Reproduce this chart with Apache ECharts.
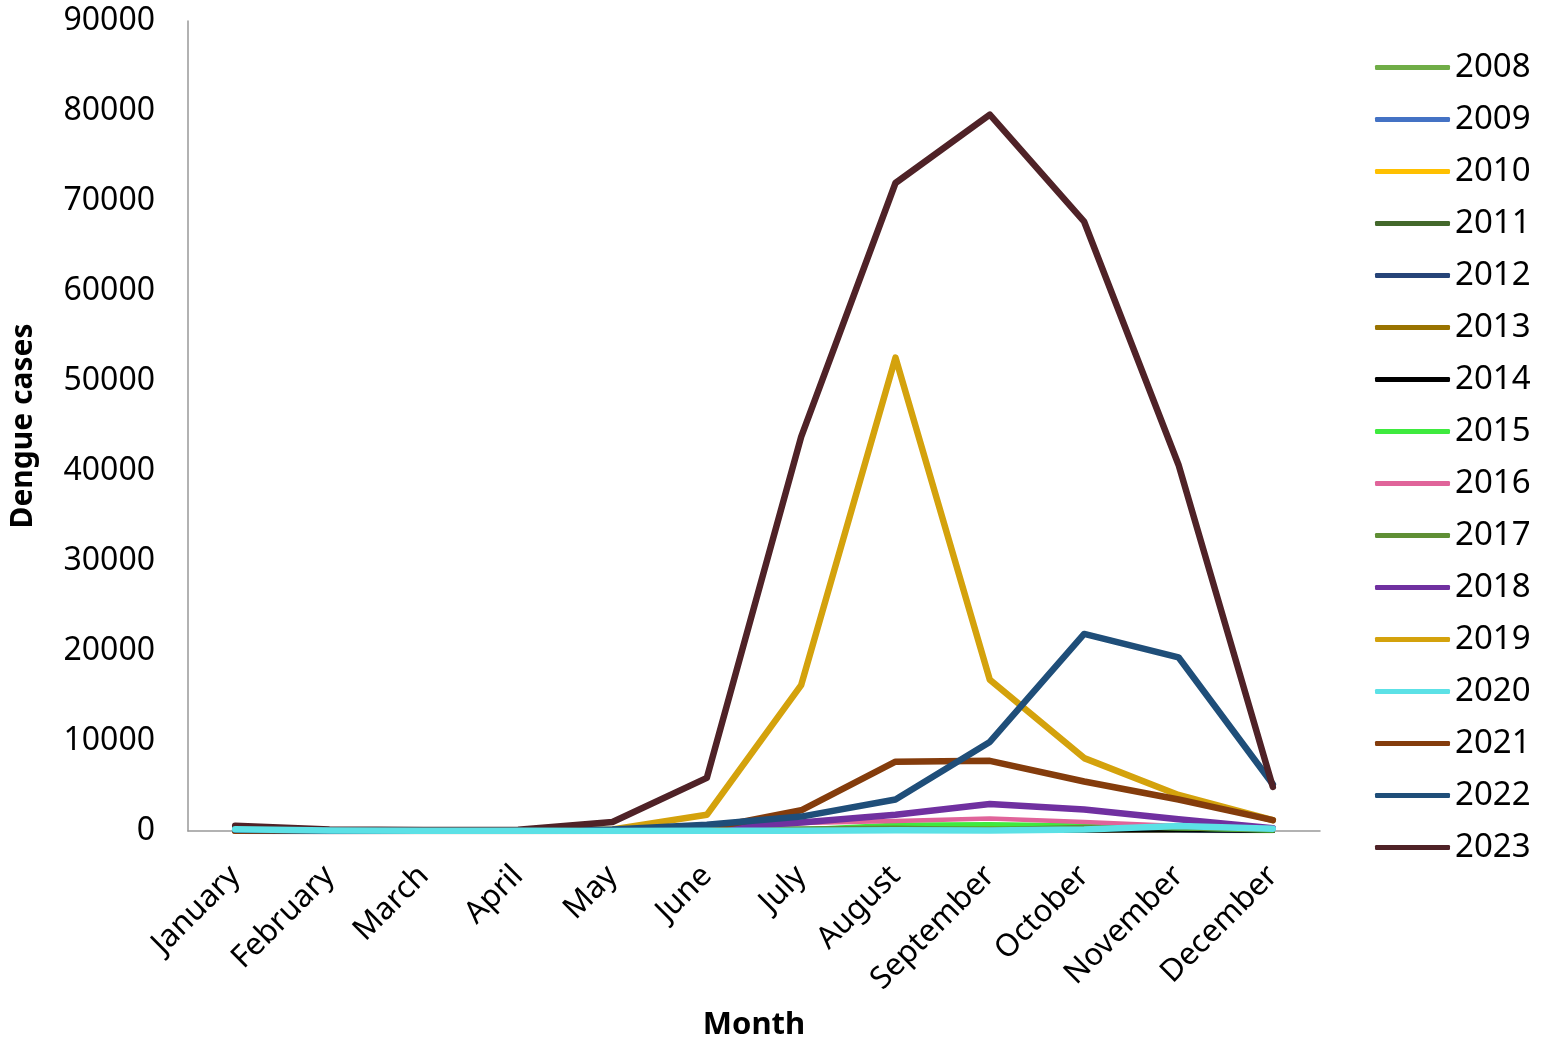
<!DOCTYPE html>
<html>
<head>
<meta charset="utf-8">
<script src="https://cdn.jsdelivr.net/npm/echarts@6/dist/echarts.min.js"></script>
<style>html,body{margin:0;padding:0;background:#fff}#c{width:1543px;height:1044px}</style>
</head>
<body>
<div id="c"></div>
<script>
const months = ["January","February","March","April","May","June","July","August","September","October","November","December"];
const yTicks = [0,10000,20000,30000,40000,50000,60000,70000,80000,90000];
const years = ["2008","2009","2010","2011","2012","2013","2014","2015","2016","2017","2018","2019","2020","2021","2022","2023"];
const colors = ["#70AD47","#4472C4","#FFC000","#43682B","#264478","#997300","#000000","#3EEA3E","#E0649A","#5F8F35","#7030A0","#D4A20C","#5CE1E6","#843C0C","#1F4E79","#4F2227"];
const widths = [4.5,4.5,4.5,4.5,4.5,4.5,4.5,4.5,4.5,4.5,6.5,6.5,6.5,6.5,6.5,6.5];

const d2008 = [0,0,0,0,0,50,150,300,350,200,80,20];
const d2009 = [0,0,0,0,0,30,60,150,140,60,20,10];
const d2010 = [0,0,0,0,0,20,50,100,120,70,30,10];
const d2011 = [0,0,0,0,10,30,150,300,400,300,120,30];
const d2012 = [0,0,0,0,0,20,40,150,250,120,60,20];
const d2013 = [0,0,0,0,10,40,170,350,400,450,250,60];
const d2014 = [0,0,0,0,0,10,20,80,100,50,150,20];
const d2015 = [0,0,0,0,10,30,170,700,750,600,300,50];
const d2016 = [10,0,20,40,70,250,900,1100,1400,1000,550,150];
const d2017 = [90,60,30,70,130,270,290,350,200,450,300,90];
const d2018 = [30,10,20,30,50,300,950,1800,3000,2400,1300,300];
const d2019 = [40,20,20,60,180,1800,16200,52600,16800,8100,4000,1200];
const d2020 = [200,50,30,20,10,20,30,70,50,160,550,250];
const d2021 = [30,10,10,0,40,270,2300,7700,7800,5500,3500,1200];
const d2022 = [130,20,20,20,160,700,1600,3500,9900,21900,19300,5200];
const d2023 = [570,170,110,140,1000,5900,43800,72000,79600,67700,40700,4900];
const allData = [d2008,d2009,d2010,d2011,d2012,d2013,d2014,d2015,d2016,d2017,d2018,d2019,d2020,d2021,d2022,d2023];

const series = years.map((y,i)=>({
  name: y,
  type: 'line',
  data: allData[i],
  symbol: 'none',
  z: i===12 ? 2.5 : 2 + i*0.01,
  lineStyle: {color: colors[i], width: widths[i], cap:'round', join:'round'},
  itemStyle: {color: colors[i]}
}));

const chart = echarts.init(document.getElementById('c'));
chart.setOption({
  animation: false,
  backgroundColor: '#ffffff',
  grid: {left: 188, right: 223, top: 21, bottom: 213, containLabel: false, outerBoundsMode: 'none'},
  legend: {
    orient: 'vertical',
    left: 1370,
    top: 46,
    icon: 'roundRect',
    itemWidth: 75,
    itemHeight: 5,
    itemGap: 19,
    textStyle: {fontFamily: 'Noto Sans', fontSize: 33, color: '#000', padding: [0,0,0,0]},
    data: years
  },
  xAxis: {
    type: 'category',
    data: months,
    boundaryGap: true,
    name: 'Month',
    nameLocation: 'middle',
    nameGap: 179,
    nameTextStyle: {fontFamily: 'Noto Sans', fontSize: 31, fontWeight: 'bold', color: '#000'},
    axisLine: {lineStyle: {color: '#999', width: 1.5}},
    axisTick: {show: false},
    axisLabel: {rotate: 45, margin: 40, fontFamily: 'Noto Sans', fontSize: 31, color: '#000', interval: 0}
  },
  yAxis: {
    type: 'value',
    min: 0, max: 90000, interval: 10000,
    name: 'Dengue cases',
    nameLocation: 'middle',
    nameGap: 150,
    nameTextStyle: {fontFamily: 'Noto Sans', fontSize: 30, fontWeight: 'bold', color: '#000'},
    axisLine: {show: true, lineStyle: {color: '#999', width: 1.5}},
    axisTick: {show: false},
    splitLine: {show: false},
    axisLabel: {margin: 33, fontFamily: 'Noto Sans', fontSize: 32, color: '#000',
      formatter: v => yTicks.includes(v) ? String(v) : ''}
  },
  series: series
});
</script>
</body>
</html>
